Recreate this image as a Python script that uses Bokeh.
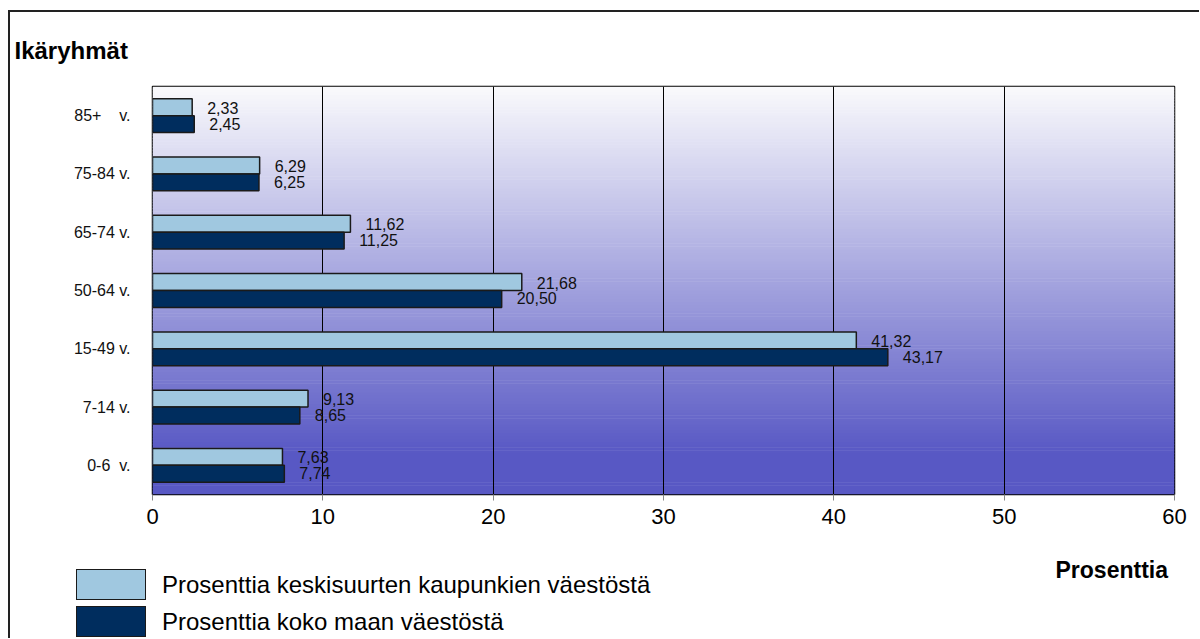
from bokeh.plotting import figure
from bokeh.layouts import column
from bokeh.models import Range1d, FactorRange, FixedTicker, ColumnDataSource, Div
from bokeh.transform import dodge
from bokeh.core.properties import value
from bokeh.embed import file_html
from bokeh.resources import INLINE

# ---- data (top to bottom as in the chart) ----
groups = ["85+\u00a0\u00a0\u00a0\u00a0v.", "75-84 v.", "65-74 v.", "50-64 v.",
          "15-49 v.", "7-14 v.", "0-6\u00a0\u00a0v."]
keskisuuret = [2.33, 6.29, 11.62, 21.68, 41.32, 9.13, 7.63]
koko_maa = [2.45, 6.25, 11.25, 20.50, 43.17, 8.65, 7.74]
x_ticks = [0, 10, 20, 30, 40, 50, 60]
series_names = ["Prosenttia keskisuurten kaupunkien väestöstä",
                "Prosenttia koko maan väestöstä"]
y_title = "Ikäryhmät"
x_title = "Prosenttia"

FONT = "Liberation Sans"
LIGHT = "#a0c8e0"
DARK = "#002d5e"
EDGE = "#1a1a1a"
W = 1189

def fmt(v):
    return f"{v:.2f}".replace(".", ",")

factors = list(reversed(groups))
p = figure(y_range=FactorRange(factors=factors), x_range=Range1d(x_ticks[0], x_ticks[-1]),
           frame_width=1022, frame_height=408,
           min_border_left=142, min_border_right=W - 142 - 1022, min_border_top=74, min_border_bottom=40,
           output_backend="svg", toolbar_location=None,
           border_fill_color="white", background_fill_color="white",
           outline_line_color="black", outline_line_width=1.5)

# gradient background (bands computed across the categorical extent)
n_groups = len(groups)
N = 140
top_c = (250, 250, 252)
bot_c = (88, 88, 196)
bb, bt, bc = [], [], []
for i in range(N):
    y0 = n_groups * i / N
    y1 = n_groups * (i + 1) / N
    t = 1 - (y0 + y1) / 2 / n_groups  # 0 at top, 1 at bottom
    f = min(t / 0.9, 1.0)
    c = tuple(int(round(a + (b - a) * f)) for a, b in zip(top_c, bot_c))
    bb.append(y0)
    bt.append(min(y1 + 0.01, n_groups))
    bc.append("#%02x%02x%02x" % c)
bg = p.quad(left=x_ticks[0], right=x_ticks[-1], bottom=bb, top=bt, fill_color=bc, line_color=None)
bg.level = "image"

src = ColumnDataSource(dict(group=groups, a=keskisuuret, b=koko_maa,
                            a_lbl=[fmt(v) for v in keskisuuret],
                            b_lbl=[fmt(v) for v in koko_maa]))

p.hbar(y=dodge("group", 0.145, range=p.y_range), left=0, right="a", height=0.29,
       fill_color=LIGHT, line_color=EDGE, line_width=1.5, source=src)
p.hbar(y=dodge("group", -0.145, range=p.y_range), left=0, right="b", height=0.29,
       fill_color=DARK, line_color=EDGE, line_width=1.5, source=src)

p.text(x="a", y=dodge("group", 0.135, range=p.y_range), text="a_lbl", x_offset=15,
       text_baseline="middle", text_align="left", text_font=value(FONT),
       text_font_size="16px", text_color="#111", source=src)
p.text(x="b", y=dodge("group", -0.135, range=p.y_range), text="b_lbl", x_offset=15,
       text_baseline="middle", text_align="left", text_font=value(FONT),
       text_font_size="16px", text_color="#111", source=src)

# grid
p.ygrid.grid_line_color = None
p.xgrid.ticker = FixedTicker(ticks=x_ticks)
p.xgrid.grid_line_color = "black"
p.xgrid.grid_line_width = 1

# axes
p.xaxis.ticker = FixedTicker(ticks=x_ticks)
p.xaxis.axis_line_color = None
p.xaxis.major_tick_in = 0
p.xaxis.major_tick_out = 6
p.xaxis.major_tick_line_color = "#888888"
p.xaxis.minor_tick_line_color = None
p.xaxis.major_label_text_font = FONT
p.xaxis.major_label_text_font_size = "22px"
p.xaxis.major_label_text_color = "black"
p.xaxis.major_label_standoff = 8

p.yaxis.axis_line_color = None
p.yaxis.major_tick_line_color = None
p.yaxis.minor_tick_line_color = None
p.yaxis.major_label_text_font = FONT
p.yaxis.major_label_text_font_size = "16px"
p.yaxis.major_label_text_color = "#111"
p.yaxis.major_label_standoff = 16

# y title in the top panel
p.title.text = y_title
p.title.align = "left"
p.title.offset = -138
p.title.text_font = FONT
p.title.text_font_size = "24px"
p.title.text_font_style = "bold"
p.title.text_color = "black"
p.title.standoff = 45

# ---- lower strip: legend and x title ----
swatch_colors = [LIGHT, DARK]
parts = []
for i, (name, col) in enumerate(zip(series_names, swatch_colors)):
    top = 35 + 37 * i
    parts.append(
        f'<div style="position:absolute;left:66px;top:{top}px;width:70px;height:31px;'
        f'box-sizing:border-box;background:{col};border:1.5px solid {EDGE};"></div>'
        f'<div style="position:absolute;left:152px;top:{top}px;height:31px;line-height:31px;'
        f'white-space:nowrap;font-size:24px;color:black;">{name}</div>')
parts.append(
    f'<div style="position:absolute;left:0px;width:1158px;top:21px;height:30px;line-height:30px;'
    f'text-align:right;font-size:23px;font-weight:bold;color:black;">{x_title}</div>')
html = (f'<div style="position:relative;width:{W}px;height:104px;'
        f'font-family:\'{FONT}\';">' + "".join(parts) + '</div>')
strip = Div(text=html, width=W, height=104, margin=0)

layout = column(p, strip, spacing=0)
layout.styles = {"border-left": "2px solid #222", "border-top": "2px solid #222",
                 "margin-left": "8px", "margin-top": "10px"}

open("out.html", "w").write(file_html(layout, INLINE))
